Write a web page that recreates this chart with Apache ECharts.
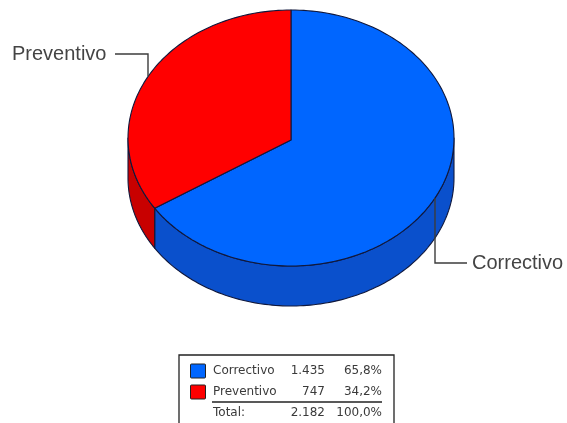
<!DOCTYPE html>
<html><head><meta charset="utf-8">
<style>html,body{margin:0;padding:0;background:#fff}#c{width:567px;height:423px;filter:blur(0.45px)}</style>
<script src="https://cdn.jsdelivr.net/npm/echarts@6/dist/echarts.min.js"></script>
</head><body><div id="c"></div>
<script>
var categories = ['Correctivo', 'Preventivo'];
var values = [1435, 747];
var valueLabels = ['1.435', '747'];
var percentLabels = ['65,8%', '34,2%'];
var totalLabels = ['Total:', '2.182', '100,0%'];
var topColors = ['#0066ff', '#ff0000'];
var sideColors = ['#0a50cc', '#c80000'];

var CX = 291, CY = 138, RX = 163, RY = 128, DEPTH = 40;
var OUT = '#10183c';
var total = values.reduce(function (a, b) { return a + b; }, 0);
function pt(t, dy) { return [CX + RX * Math.sin(t), CY - RY * Math.cos(t) + (dy || 0)]; }
function range(i) {
  var s = 0;
  for (var k = 0; k < i; k++) s += values[k];
  return [s / total * 2 * Math.PI, (s + values[i]) / total * 2 * Math.PI];
}
function topItem(params, api) {
  var i = params.dataIndex, r = range(i), frac = api.value(1) / total;
  var n = Math.max(8, Math.round(frac * 240)), pts = [[CX, CY + 2]];
  for (var k = 0; k <= n; k++) pts.push(pt(r[0] + (r[1] - r[0]) * k / n));
  return { type: 'polygon', shape: { points: pts },
    style: { fill: topColors[i], stroke: OUT, lineWidth: 1.1, lineJoin: 'round' } };
}
function sideItem(params, api) {
  var i = params.dataIndex, r = range(i);
  var a = Math.max(r[0], Math.PI / 2), b = Math.min(r[1], Math.PI * 1.5);
  if (a >= b) return null;
  var n = 120, pts = [], k;
  for (k = 0; k <= n; k++) pts.push(pt(a + (b - a) * k / n));
  for (k = n; k >= 0; k--) pts.push(pt(a + (b - a) * k / n, DEPTH));
  return { type: 'polygon', shape: { points: pts },
    style: { fill: sideColors[i], stroke: OUT, lineWidth: 1.1, lineJoin: 'round' } };
}
var seriesData = categories.map(function (c, i) { return { name: c, value: [i, values[i]] }; });

var TXT = '#3a3a3a';
var LF = '12px "DejaVu Sans"';
function leader(pts) {
  return { type: 'polyline', shape: { points: pts }, z: 20,
    style: { fill: 'none', stroke: '#3c3c3c', lineWidth: 1.4 } };
}
function label(s, x, y) {
  return { type: 'text', x: x, y: y, z: 21, style: { text: s, fill: '#444',
    font: '20px "Liberation Sans"', textAlign: 'left', textVerticalAlign: 'middle' } };
}
function lt(s, x, y, align) {
  return { type: 'text', x: x, y: y, z: 21, style: { text: s, fill: TXT, font: LF,
    textAlign: align, textVerticalAlign: 'middle' } };
}
var rowY = [371, 392];
var g = [
  leader([[115, 54], [148, 54], [148, 76]]),
  leader([[435, 198], [435, 263], [467, 263]]),
  label(categories[1], 12, 54),
  label(categories[0], 472, 263),
  { type: 'polyline', z: 20, shape: { points: [[179, 423], [179, 355], [394, 355], [394, 423]] },
    style: { fill: 'none', stroke: '#222', lineWidth: 1.3 } },
  { type: 'line', z: 20, shape: { x1: 212, y1: 402, x2: 382, y2: 402 },
    style: { stroke: '#222', lineWidth: 1.4 } },
  lt(totalLabels[0], 213, 413, 'left'),
  lt(totalLabels[1], 325, 413, 'right'),
  lt(totalLabels[2], 382, 413, 'right')
];
categories.forEach(function (c, i) {
  g.push({ type: 'rect', z: 20, shape: { x: 190.5, y: rowY[i] - 7, width: 15, height: 14, r: 1 },
    style: { fill: topColors[i], stroke: '#222', lineWidth: 1 } });
  g.push(lt(c, 213, rowY[i], 'left'));
  g.push(lt(valueLabels[i], 325, rowY[i], 'right'));
  g.push(lt(percentLabels[i], 382, rowY[i], 'right'));
});

var chart = echarts.init(document.getElementById('c'), null, { renderer: 'canvas', width: 567, height: 423 });
chart.setOption({
  animation: false,
  backgroundColor: '#fff',
  graphic: g,
  series: [
    { type: 'custom', coordinateSystem: 'none', silent: true, z: 2, renderItem: sideItem, data: seriesData, encode: { value: 1 } },
    { type: 'custom', coordinateSystem: 'none', silent: true, z: 3, renderItem: topItem, data: seriesData, encode: { value: 1 } }
  ]
});
</script></body></html>
